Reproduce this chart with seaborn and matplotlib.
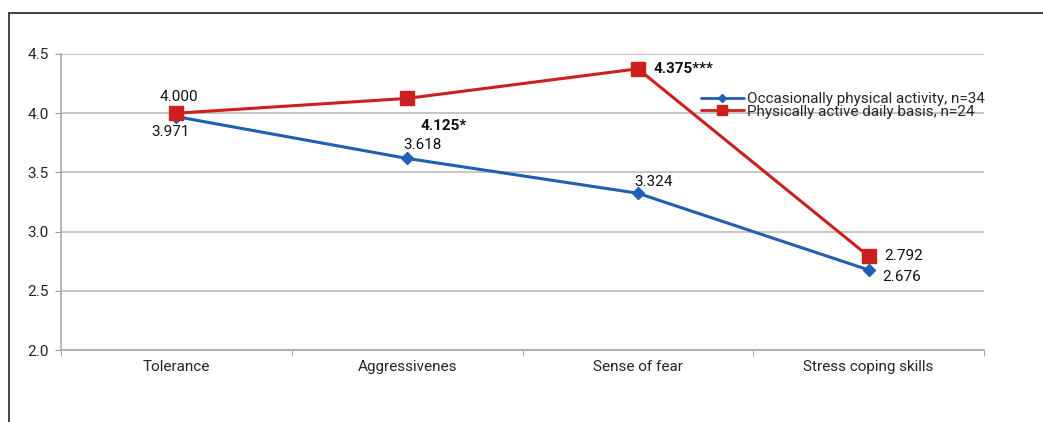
import pandas as pd
import seaborn as sns
import matplotlib.pyplot as plt
from matplotlib.patches import Rectangle

# Values
categories = ["Tolerance", "Aggressivenes", "Sense of fear", "Stress coping skills"]
occasional = [3.971, 3.618, 3.324, 2.676]
daily = [4.000, 4.125, 4.375, 2.792]
occasional_labels = ["3.971", "3.618", "3.324", "2.676"]
daily_labels = ["4.000", "4.125*", "4.375***", "2.792"]
series_names = ["Occasionally physical activity, n=34", "Physically active daily basis, n=24"]

data = pd.DataFrame({
    "category": categories * 2,
    "value": occasional + daily,
    "group": [series_names[0]] * 4 + [series_names[1]] * 4,
})
data["pos"] = list(range(4)) * 2

sns.set_style("white")
plt.rcParams['font.family'] = ['Roboto', 'DejaVu Sans']
FS = 11

fig = plt.figure(figsize=(10.43, 4.22), dpi=100)
ax = fig.add_axes([61 / 1043, 1 - 350 / 422, (984 - 61) / 1043, (350 - 54) / 422])

# outer frame (only top and left edges visible in the reference)
fig.patches.append(Rectangle((9 / 1043, -0.1), 1.2, 1 - 13 / 422 + 0.1,
                             transform=fig.transFigure, fill=False,
                             edgecolor="#222222", linewidth=1.2))

colors = {series_names[0]: "#1f5fb4", series_names[1]: "#cc1f1f"}
sns.lineplot(data=data, x="pos", y="value", hue="group",
             palette=colors, linewidth=2.2, ax=ax, legend=False)
# markers drawn separately to control size
ax.plot(range(4), occasional, "D", color=colors[series_names[0]], markersize=6, zorder=3)
ax.plot(range(4), daily, "s", color=colors[series_names[1]], markersize=10.5, zorder=3)

# legend handles
ax.plot([], [], "-D", color=colors[series_names[0]], markersize=4, linewidth=2, label=series_names[0])
ax.plot([], [], "-s", color=colors[series_names[1]], markersize=7, linewidth=2, label=series_names[1])
ax.legend(loc="upper left", bbox_to_anchor=(0.685, 0.897), frameon=False,
          fontsize=FS, handlelength=2.8, handletextpad=0.2, labelspacing=-0.1,
          borderpad=0)

ax.set_xlim(-0.5, 3.5)
ax.set_ylim(2.0, 4.5)
ax.set_yticks([2.0, 2.5, 3.0, 3.5, 4.0, 4.5])
ax.set_yticklabels(["2.0", "2.5", "3.0", "3.5", "4.0", "4.5"])
ax.set_xticks(range(4))
ax.set_xticklabels(categories)
ax.set_xticks([-0.5, 0.5, 1.5, 2.5, 3.5], minor=True)
ax.tick_params(axis="x", which="major", length=0, labelsize=FS, pad=7)
ax.tick_params(axis="x", which="minor", length=4, color="#999999", bottom=True)
ax.tick_params(axis="y", length=4, color="#999999", left=True, labelsize=FS, pad=5)
ax.grid(axis="y", color="#bbbbbb", linewidth=1.2)
ax.set_axisbelow(True)
for side in ["top", "right"]:
    ax.spines[side].set_visible(False)
for side in ["left", "bottom"]:
    ax.spines[side].set_color("#aaaaaa")
    ax.spines[side].set_linewidth(1.2)
ax.set_xlabel("")
ax.set_ylabel("")

# data labels
offsets_occ = [(-4, -11, "center"), (11, 10, "center"), (11, 8, "center"), (10, -5, "left")]
offsets_daily = [(2, 12, "center"), (10, -20, "left"), (11, 0, "left"), (11, 0, "left")]
for i, (v, lab) in enumerate(zip(occasional, occasional_labels)):
    dx, dy, ha = offsets_occ[i]
    ax.annotate(lab, (i, v), xytext=(dx, dy), textcoords="offset points",
                ha=ha, va="center", fontsize=FS, color="#111111")
for i, (v, lab) in enumerate(zip(daily, daily_labels)):
    dx, dy, ha = offsets_daily[i]
    bold = "*" in lab
    ax.annotate(lab, (i, v), xytext=(dx, dy), textcoords="offset points",
                ha=ha, va="center", fontsize=FS, color="#111111",
                fontweight="bold" if bold else "normal")

fig.savefig("out.png", dpi=100)
